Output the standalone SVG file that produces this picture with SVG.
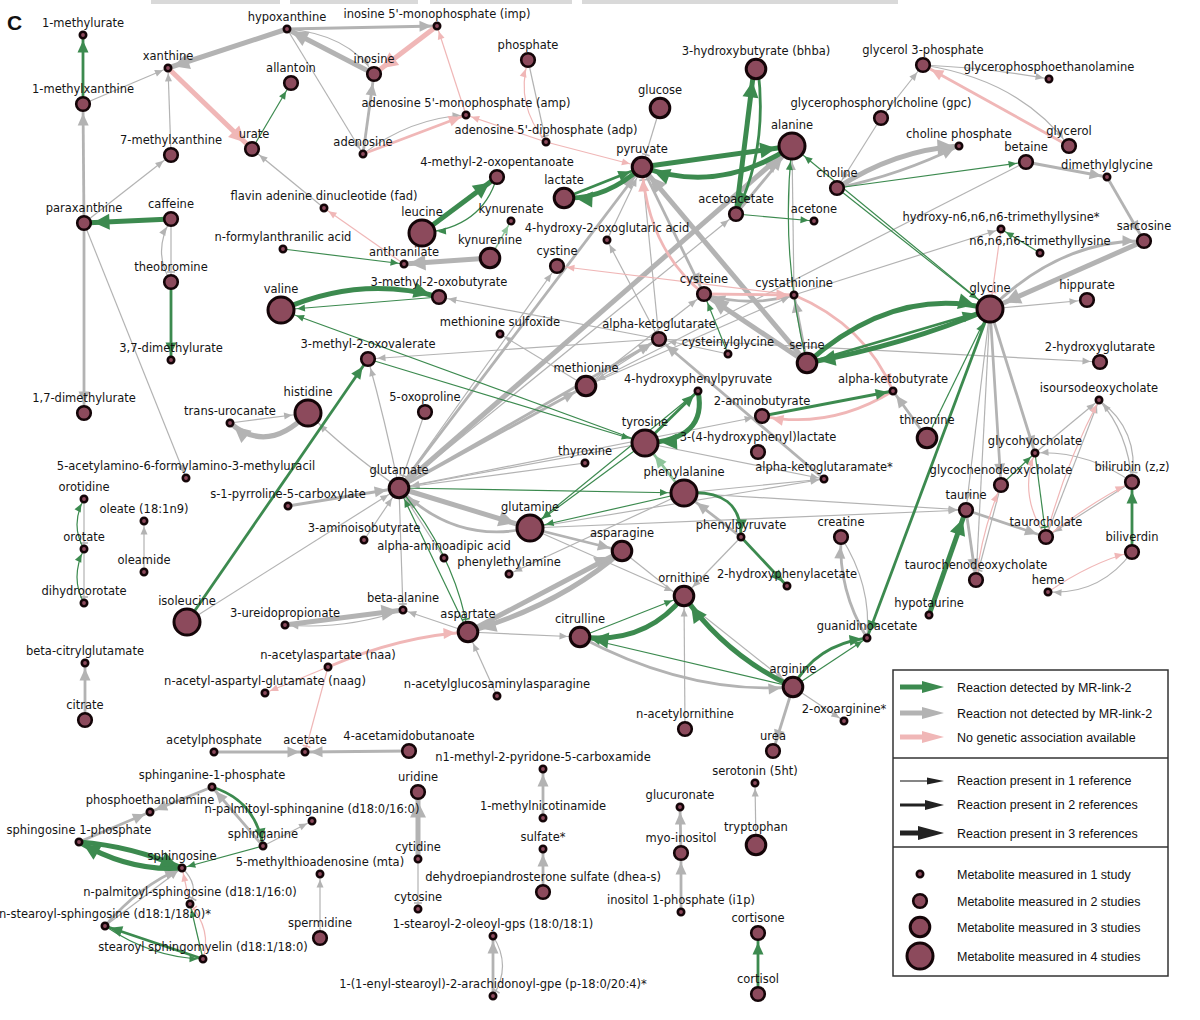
<svg xmlns="http://www.w3.org/2000/svg" width="1200" height="1020" viewBox="0 0 1200 1020">
<style>
marker{overflow:visible}
.mg{fill:#3c8a4f}.mn{fill:#b3b3b3}.mp{fill:#f0b7b7}.ml{fill:#8fc49b}
#edges path{fill:none}
.n1{stroke:#b3b3b3;stroke-width:1.2}.n2{stroke:#b3b3b3;stroke-width:2.8}.n3{stroke:#b3b3b3;stroke-width:5}
.p1{stroke:#f0b7b7;stroke-width:1.2}.p2{stroke:#f0b7b7;stroke-width:2.8}.p3{stroke:#f0b7b7;stroke-width:5}
.g1{stroke:#3c8a4f;stroke-width:1.2}.g2{stroke:#3c8a4f;stroke-width:2.8}.g3{stroke:#3c8a4f;stroke-width:5}
.l1{stroke:#8fc49b;stroke-width:1.5}.l2{stroke:#8fc49b;stroke-width:2.8}
.nodes circle{fill:#8c4a5c;stroke:#140508}
.s1{stroke-width:2.6}.s2{stroke-width:2.6}.s3{stroke-width:3}.s4{stroke-width:3}
.nodes text{font-family:"DejaVu Sans",Verdana,sans-serif;font-size:11.5px;fill:#141414;text-anchor:middle}
.lg text{font-family:"Liberation Sans",Arial,sans-serif;font-size:12.5px;fill:#111}
</style>
<defs>
<path id="a1" d="M0,-3.5L8,0L0,3.5z"/>
<path id="a2" d="M0,-5.5L12,0L0,5.5z"/>
<path id="a3" d="M0,-8L16,0L0,8z"/>
<marker id="g1s1" markerUnits="userSpaceOnUse" orient="auto" refX="13.5" refY="0" markerWidth="1" markerHeight="1"><use href="#a1" class="mg"/></marker>
<marker id="g1s2" markerUnits="userSpaceOnUse" orient="auto" refX="17.5" refY="0" markerWidth="1" markerHeight="1"><use href="#a1" class="mg"/></marker>
<marker id="g1s3" markerUnits="userSpaceOnUse" orient="auto" refX="20.5" refY="0" markerWidth="1" markerHeight="1"><use href="#a1" class="mg"/></marker>
<marker id="g1s4" markerUnits="userSpaceOnUse" orient="auto" refX="24" refY="0" markerWidth="1" markerHeight="1"><use href="#a1" class="mg"/></marker>
<marker id="g2s1" markerUnits="userSpaceOnUse" orient="auto" refX="17.5" refY="0" markerWidth="1" markerHeight="1"><use href="#a2" class="mg"/></marker>
<marker id="g2s2" markerUnits="userSpaceOnUse" orient="auto" refX="21.5" refY="0" markerWidth="1" markerHeight="1"><use href="#a2" class="mg"/></marker>
<marker id="g2s3" markerUnits="userSpaceOnUse" orient="auto" refX="24.5" refY="0" markerWidth="1" markerHeight="1"><use href="#a2" class="mg"/></marker>
<marker id="g2s4" markerUnits="userSpaceOnUse" orient="auto" refX="28" refY="0" markerWidth="1" markerHeight="1"><use href="#a2" class="mg"/></marker>
<marker id="g3s1" markerUnits="userSpaceOnUse" orient="auto" refX="21.5" refY="0" markerWidth="1" markerHeight="1"><use href="#a3" class="mg"/></marker>
<marker id="g3s2" markerUnits="userSpaceOnUse" orient="auto" refX="25.5" refY="0" markerWidth="1" markerHeight="1"><use href="#a3" class="mg"/></marker>
<marker id="g3s3" markerUnits="userSpaceOnUse" orient="auto" refX="28.5" refY="0" markerWidth="1" markerHeight="1"><use href="#a3" class="mg"/></marker>
<marker id="g3s4" markerUnits="userSpaceOnUse" orient="auto" refX="32" refY="0" markerWidth="1" markerHeight="1"><use href="#a3" class="mg"/></marker>
<marker id="n1s1" markerUnits="userSpaceOnUse" orient="auto" refX="13.5" refY="0" markerWidth="1" markerHeight="1"><use href="#a1" class="mn"/></marker>
<marker id="n1s2" markerUnits="userSpaceOnUse" orient="auto" refX="17.5" refY="0" markerWidth="1" markerHeight="1"><use href="#a1" class="mn"/></marker>
<marker id="n1s3" markerUnits="userSpaceOnUse" orient="auto" refX="20.5" refY="0" markerWidth="1" markerHeight="1"><use href="#a1" class="mn"/></marker>
<marker id="n1s4" markerUnits="userSpaceOnUse" orient="auto" refX="24" refY="0" markerWidth="1" markerHeight="1"><use href="#a1" class="mn"/></marker>
<marker id="n2s1" markerUnits="userSpaceOnUse" orient="auto" refX="17.5" refY="0" markerWidth="1" markerHeight="1"><use href="#a2" class="mn"/></marker>
<marker id="n2s2" markerUnits="userSpaceOnUse" orient="auto" refX="21.5" refY="0" markerWidth="1" markerHeight="1"><use href="#a2" class="mn"/></marker>
<marker id="n2s3" markerUnits="userSpaceOnUse" orient="auto" refX="24.5" refY="0" markerWidth="1" markerHeight="1"><use href="#a2" class="mn"/></marker>
<marker id="n2s4" markerUnits="userSpaceOnUse" orient="auto" refX="28" refY="0" markerWidth="1" markerHeight="1"><use href="#a2" class="mn"/></marker>
<marker id="n3s1" markerUnits="userSpaceOnUse" orient="auto" refX="21.5" refY="0" markerWidth="1" markerHeight="1"><use href="#a3" class="mn"/></marker>
<marker id="n3s2" markerUnits="userSpaceOnUse" orient="auto" refX="25.5" refY="0" markerWidth="1" markerHeight="1"><use href="#a3" class="mn"/></marker>
<marker id="n3s3" markerUnits="userSpaceOnUse" orient="auto" refX="28.5" refY="0" markerWidth="1" markerHeight="1"><use href="#a3" class="mn"/></marker>
<marker id="n3s4" markerUnits="userSpaceOnUse" orient="auto" refX="32" refY="0" markerWidth="1" markerHeight="1"><use href="#a3" class="mn"/></marker>
<marker id="p1s1" markerUnits="userSpaceOnUse" orient="auto" refX="13.5" refY="0" markerWidth="1" markerHeight="1"><use href="#a1" class="mp"/></marker>
<marker id="p1s2" markerUnits="userSpaceOnUse" orient="auto" refX="17.5" refY="0" markerWidth="1" markerHeight="1"><use href="#a1" class="mp"/></marker>
<marker id="p1s3" markerUnits="userSpaceOnUse" orient="auto" refX="20.5" refY="0" markerWidth="1" markerHeight="1"><use href="#a1" class="mp"/></marker>
<marker id="p2s1" markerUnits="userSpaceOnUse" orient="auto" refX="17.5" refY="0" markerWidth="1" markerHeight="1"><use href="#a2" class="mp"/></marker>
<marker id="p2s2" markerUnits="userSpaceOnUse" orient="auto" refX="21.5" refY="0" markerWidth="1" markerHeight="1"><use href="#a2" class="mp"/></marker>
<marker id="p2s3" markerUnits="userSpaceOnUse" orient="auto" refX="24.5" refY="0" markerWidth="1" markerHeight="1"><use href="#a2" class="mp"/></marker>
<marker id="p3s2" markerUnits="userSpaceOnUse" orient="auto" refX="25.5" refY="0" markerWidth="1" markerHeight="1"><use href="#a3" class="mp"/></marker>
<marker id="l1s1" markerUnits="userSpaceOnUse" orient="auto" refX="13.5" refY="0" markerWidth="1" markerHeight="1"><use href="#a1" class="ml"/></marker>
<marker id="l2s4" markerUnits="userSpaceOnUse" orient="auto" refX="28" refY="0" markerWidth="1" markerHeight="1"><use href="#a2" class="ml"/></marker>
<marker id="tn1" markerUnits="userSpaceOnUse" orient="auto" refX="6" refY="0" markerWidth="1" markerHeight="1"><path d="M0,-4V4" stroke="#b3b3b3" stroke-width="1.6"/></marker>
<marker id="tn2" markerUnits="userSpaceOnUse" orient="auto" refX="10" refY="0" markerWidth="1" markerHeight="1"><path d="M0,-4V4" stroke="#b3b3b3" stroke-width="1.6"/></marker>
<marker id="tn3" markerUnits="userSpaceOnUse" orient="auto" refX="13" refY="0" markerWidth="1" markerHeight="1"><path d="M0,-4V4" stroke="#b3b3b3" stroke-width="1.6"/></marker>
<marker id="tp1" markerUnits="userSpaceOnUse" orient="auto" refX="6" refY="0" markerWidth="1" markerHeight="1"><path d="M0,-4V4" stroke="#f0b7b7" stroke-width="1.6"/></marker>
<marker id="tp4" markerUnits="userSpaceOnUse" orient="auto" refX="17" refY="0" markerWidth="1" markerHeight="1"><path d="M0,-4V4" stroke="#f0b7b7" stroke-width="1.6"/></marker>
<marker id="tg2" markerUnits="userSpaceOnUse" orient="auto" refX="10" refY="0" markerWidth="1" markerHeight="1"><path d="M0,-4V4" stroke="#3c8a4f" stroke-width="1.6"/></marker>
<marker id="tg3" markerUnits="userSpaceOnUse" orient="auto" refX="13" refY="0" markerWidth="1" markerHeight="1"><path d="M0,-4V4" stroke="#3c8a4f" stroke-width="1.6"/></marker>
</defs>
<rect width="1200" height="1020" fill="#fff"/>
<g id="header" fill="#d9d9d9"><rect x="151" y="0" width="129" height="4"/><rect x="290" y="0" width="128" height="4"/><rect x="430" y="0" width="142" height="4"/><rect x="582" y="0" width="316" height="4"/></g>
<text x="7" y="30" font-family="Liberation Sans,Arial,sans-serif" font-size="21" font-weight="bold" fill="#111">C</text>
<g id="edges">
<path class="n2" d="M84,223 L83,104" marker-end="url(#n2s2)"/>
<path class="n2" d="M84,223 L84,413" marker-end="url(#n2s2)"/>
<path class="n1" d="M83,104 L168,68" marker-end="url(#n1s1)"/>
<path class="n3" d="M287,29 L168,68" marker-end="url(#n3s1)"/>
<path class="n1" d="M171,155 L168,68" marker-end="url(#n1s1)"/>
<path class="n1" d="M84,223 L171,155" marker-end="url(#n1s2)"/>
<path class="n1" d="M171,219 L171,282" marker-end="url(#tn2)"/>
<path class="n1" d="M171,282 Q152,252 171,219" marker-end="url(#n1s2)"/>
<path class="n1" d="M84,223 L186,478" marker-end="url(#n1s1)"/>
<path class="n1" d="M324,208 L252,149" marker-end="url(#n1s2)"/>
<path class="n3" d="M374,74 L287,29" marker-end="url(#n3s1)"/>
<path class="n1" d="M287,29 Q348,34 374,74" marker-end="url(#n1s2)"/>
<path class="n2" d="M287,29 L437,26" marker-end="url(#n2s1)"/>
<path class="n1" d="M287,29 L363,154" marker-end="url(#n1s1)"/>
<path class="n2" d="M363,154 L374,74" marker-end="url(#n2s2)"/>
<path class="n1" d="M363,154 Q410,118 466,115" marker-end="url(#n1s1)"/>
<path class="n1" d="M528,60 L546,142" marker-end="url(#tn1)"/>
<path class="n3" d="M490,258 L404,264" marker-end="url(#n3s1)"/>
<path class="n1" d="M881,118 L923,65" marker-end="url(#n1s2)"/>
<path class="n1" d="M923,65 Q990,68 1049,79" marker-end="url(#n1s1)"/>
<path class="n1" d="M923,65 Q1020,80 1069,146" marker-end="url(#n1s2)"/>
<path class="n3" d="M837,188 Q895,150 959,146" marker-end="url(#n3s1)"/>
<path class="n2" d="M837,188 Q900,175 959,146" marker-end="url(#n2s1)"/>
<path class="n1" d="M881,118 L837,188" marker-end="url(#n1s2)"/>
<path class="n2" d="M1026,162 L1107,177" marker-end="url(#n2s1)"/>
<path class="n2" d="M1107,177 L1144,241" marker-end="url(#n2s2)"/>
<path class="n3" d="M1144,241 L990,309" marker-end="url(#n3s4)"/>
<path class="n2" d="M990,309 Q1060,240 1144,241" marker-end="url(#n2s2)"/>
<path class="n1" d="M990,309 L1087,300" marker-end="url(#n1s2)"/>
<path class="n1" d="M1026,162 L586,386" marker-end="url(#n1s3)"/>
<path class="n1" d="M794,295 L1001,229" marker-end="url(#n1s1)"/>
<path class="n2" d="M990,309 L1035,453" marker-end="url(#n2s1)"/>
<path class="n2" d="M990,309 L1001,485" marker-end="url(#n2s2)"/>
<path class="n1" d="M990,309 L966,510" marker-end="url(#n1s2)"/>
<path class="n1" d="M990,309 L976,580" marker-end="url(#tn2)"/>
<path class="n2" d="M966,510 L1046,537" marker-end="url(#n2s2)"/>
<path class="n2" d="M966,510 L976,580" marker-end="url(#n2s2)"/>
<path class="n1" d="M1035,453 L1099,400" marker-end="url(#n1s1)"/>
<path class="n1" d="M1046,537 L1099,400" marker-end="url(#n1s1)"/>
<path class="n1" d="M1132,482 Q1128,432 1099,400" marker-end="url(#n1s1)"/>
<path class="n1" d="M1099,400 Q1140,430 1132,482" marker-end="url(#tn2)"/>
<path class="n1" d="M1132,482 Q1085,450 1035,453" marker-end="url(#n1s1)"/>
<path class="n1" d="M1001,485 L976,580" marker-end="url(#tn2)"/>
<path class="n1" d="M1132,482 L1046,537" marker-end="url(#n1s2)"/>
<path class="n1" d="M1132,552 Q1100,595 1048,592" marker-end="url(#n1s1)"/>
<path class="n2" d="M927,438 L893,391" marker-end="url(#n2s1)"/>
<path class="n2" d="M807,363 L794,295" marker-end="url(#n2s1)"/>
<path class="n2" d="M794,295 Q748,308 704,294" marker-end="url(#n2s2)"/>
<path class="n3" d="M807,363 L704,294" marker-end="url(#n3s2)"/>
<path class="n3" d="M807,363 L642,167" marker-end="url(#n3s3)"/>
<path class="n2" d="M642,167 L704,294" marker-end="url(#n2s2)"/>
<path class="n1" d="M660,108 L642,167" marker-end="url(#tn3)"/>
<path class="n2" d="M736,214 L792,146" marker-end="url(#n2s4)"/>
<path class="n3" d="M399,488 L792,146" marker-end="url(#n3s4)"/>
<path class="n2" d="M399,488 L586,386" marker-end="url(#n2s3)"/>
<path class="n2" d="M399,488 L659,339" marker-end="url(#n2s2)"/>
<path class="n1" d="M425,412 L399,488" marker-end="url(#tn3)"/>
<path class="n1" d="M399,488 Q385,420 368,359" marker-end="url(#n1s2)"/>
<path class="n1" d="M399,488 Q345,450 308,413" marker-end="url(#n1s4)"/>
<path class="n1" d="M585,463 L399,488" marker-end="url(#n1s3)"/>
<path class="n1" d="M645,443 L399,488" marker-end="url(#n1s3)"/>
<path class="n3" d="M399,488 L530,528" marker-end="url(#n3s4)"/>
<path class="n2" d="M530,528 Q455,545 399,488" marker-end="url(#n2s3)"/>
<path class="n1" d="M364,540 L399,488" marker-end="url(#n1s3)"/>
<path class="n1" d="M444,558 L399,488" marker-end="url(#n1s3)"/>
<path class="n2" d="M288,506 L399,488" marker-end="url(#n2s3)"/>
<path class="n1" d="M187,622 L399,488" marker-end="url(#n1s3)"/>
<path class="n1" d="M399,488 L403,610" marker-end="url(#tn1)"/>
<path class="n3" d="M285,625 L403,610" marker-end="url(#n3s1)"/>
<path class="n1" d="M403,610 Q345,630 285,625" marker-end="url(#n1s1)"/>
<path class="n1" d="M468,632 L403,610" marker-end="url(#n1s1)"/>
<path class="n3" d="M468,632 L622,551" marker-end="url(#n3s3)"/>
<path class="n3" d="M622,551 Q560,605 468,632" marker-end="url(#n3s3)"/>
<path class="n1" d="M468,632 L580,637" marker-end="url(#n1s3)"/>
<path class="n1" d="M497,696 L468,632" marker-end="url(#n1s3)"/>
<path class="n2" d="M530,528 L622,551" marker-end="url(#n2s3)"/>
<path class="n1" d="M684,493 L509,574" marker-end="url(#n1s1)"/>
<path class="n2" d="M741,537 L684,493" marker-end="url(#n2s4)"/>
<path class="n1" d="M530,528 L684,596" marker-end="url(#n1s3)"/>
<path class="n1" d="M685,729 L684,596" marker-end="url(#n1s3)"/>
<path class="n2" d="M580,637 Q690,695 793,687" marker-end="url(#n2s3)"/>
<path class="n1" d="M622,551 L793,687" marker-end="url(#n1s3)"/>
<path class="n2" d="M793,687 L773,751" marker-end="url(#n2s2)"/>
<path class="n1" d="M793,687 L844,721" marker-end="url(#n1s1)"/>
<path class="n2" d="M867,638 Q838,590 841,537" marker-end="url(#n2s2)"/>
<path class="n1" d="M841,537 Q872,585 867,638" marker-end="url(#n1s1)"/>
<path class="n1" d="M530,528 L824,479" marker-end="url(#n1s1)"/>
<path class="n1" d="M684,493 L824,479" marker-end="url(#n1s1)"/>
<path class="n1" d="M645,443 L824,479" marker-end="url(#n1s1)"/>
<path class="n1" d="M530,528 L966,510" marker-end="url(#n1s2)"/>
<path class="n1" d="M684,493 L966,510" marker-end="url(#n1s2)"/>
<path class="n1" d="M659,339 L1100,362" marker-end="url(#n1s2)"/>
<path class="n1" d="M659,339 L439,297" marker-end="url(#n1s2)"/>
<path class="n1" d="M659,339 L368,359" marker-end="url(#n1s2)"/>
<path class="n1" d="M586,386 L500,334" marker-end="url(#n1s1)"/>
<path class="n1" d="M586,386 L659,339" marker-end="url(#n1s2)"/>
<path class="n1" d="M399,488 L557,266" marker-end="url(#n1s2)"/>
<path class="n1" d="M659,339 L607,240" marker-end="url(#n1s1)"/>
<path class="n1" d="M607,240 L642,167" marker-end="url(#n1s3)"/>
<path class="n1" d="M659,339 L642,167" marker-end="url(#tn3)"/>
<path class="n1" d="M586,386 L704,294" marker-end="url(#n1s2)"/>
<path class="n1" d="M399,488 L762,416" marker-end="url(#n1s2)"/>
<path class="n1" d="M741,537 L684,596" marker-end="url(#n1s3)"/>
<path class="n1" d="M399,488 L736,214" marker-end="url(#n1s2)"/>
<path class="n2" d="M399,488 L642,167" marker-end="url(#n2s3)"/>
<path class="n1" d="M794,295 L792,146" marker-end="url(#n1s4)"/>
<path class="n1" d="M728,354 L659,339" marker-end="url(#n1s2)"/>
<path class="n2" d="M824,479 L659,339" marker-end="url(#n2s2)"/>
<path class="n1" d="M586,386 L794,295" marker-end="url(#n1s1)"/>
<path class="n1" d="M230,423 L308,413" marker-end="url(#n1s4)"/>
<path class="n3" d="M308,413 Q268,455 230,423" marker-end="url(#n3s1)"/>
<path class="n1" d="M144,572 L144,521" marker-end="url(#n1s1)"/>
<path class="n1" d="M84,499 L84,549" marker-end="url(#tn1)"/>
<path class="n1" d="M84,549 L84,603" marker-end="url(#tn1)"/>
<path class="n2" d="M85,720 L85,663" marker-end="url(#n2s1)"/>
<path class="n2" d="M214,752 L305,752" marker-end="url(#n2s1)"/>
<path class="n2" d="M409,751 L305,752" marker-end="url(#n2s1)"/>
<path class="n1" d="M320,938 L320,874" marker-end="url(#n1s1)"/>
<path class="n3" d="M418,859 L418,792" marker-end="url(#n3s2)"/>
<path class="n1" d="M418,859 L418,909" marker-end="url(#tn1)"/>
<path class="n2" d="M543,818 L543,769" marker-end="url(#n2s1)"/>
<path class="n2" d="M543,892 L543,849" marker-end="url(#n2s1)"/>
<path class="n2" d="M493,996 L493,936" marker-end="url(#n2s1)"/>
<path class="n1" d="M493,936 Q512,966 493,996" marker-end="url(#tn1)"/>
<path class="n2" d="M681,853 L680,807" marker-end="url(#n2s1)"/>
<path class="n2" d="M681,912 L681,853" marker-end="url(#n2s2)"/>
<path class="n1" d="M756,845 L755,783" marker-end="url(#n1s1)"/>
<path class="n2" d="M79,842 L150,812" marker-end="url(#n2s1)"/>
<path class="n2" d="M212,787 L150,812" marker-end="url(#n2s1)"/>
<path class="n2" d="M263,846 L212,787" marker-end="url(#n2s1)"/>
<path class="n1" d="M263,846 L312,821" marker-end="url(#n1s1)"/>
<path class="n2" d="M105,926 Q140,885 182,868" marker-end="url(#n2s1)"/>
<path class="n1" d="M105,926 L182,868" marker-end="url(#n1s1)"/>
<path class="n1" d="M182,868 Q200,885 190,904" marker-end="url(#tn1)"/>
<path class="p3" d="M168,68 L252,149" marker-end="url(#p3s2)"/>
<path class="p3" d="M437,26 L374,74" marker-end="url(#p3s2)"/>
<path class="p2" d="M363,154 L466,115" marker-end="url(#p2s1)"/>
<path class="p1" d="M466,115 L437,26" marker-end="url(#p1s1)"/>
<path class="p1" d="M546,142 L466,115" marker-end="url(#p1s1)"/>
<path class="p1" d="M546,142 Q515,105 528,60" marker-end="url(#p1s2)"/>
<path class="p1" d="M404,264 L324,208" marker-end="url(#p1s1)"/>
<path class="p1" d="M546,142 L642,167" marker-end="url(#p1s3)"/>
<path class="p2" d="M704,294 Q648,250 642,167" marker-end="url(#p2s3)"/>
<path class="p2" d="M704,294 L794,295" marker-end="url(#p2s1)"/>
<path class="p2" d="M794,295 Q865,325 893,391" marker-end="url(#p2s1)"/>
<path class="p1" d="M794,295 L557,266" marker-end="url(#p1s2)"/>
<path class="p2" d="M893,391 Q830,430 762,416" marker-end="url(#p2s2)"/>
<path class="p2" d="M1069,146 L923,65" marker-end="url(#p2s2)"/>
<path class="p1" d="M1001,229 L990,309" marker-end="url(#tp4)"/>
<path class="p2" d="M328,667 Q400,636 468,632" marker-end="url(#p2s3)"/>
<path class="p1" d="M328,667 L265,693" marker-end="url(#p1s1)"/>
<path class="p1" d="M328,667 L305,752" marker-end="url(#tp1)"/>
<path class="p1" d="M1048,592 Q1092,562 1132,552" marker-end="url(#p1s2)"/>
<path class="p1" d="M976,580 Q982,530 1001,485" marker-end="url(#p1s2)"/>
<path class="p1" d="M1046,537 Q1065,465 1099,400" marker-end="url(#p1s1)"/>
<path class="p1" d="M1046,537 Q1095,500 1132,482" marker-end="url(#p1s2)"/>
<path class="p1" d="M1046,537 Q1018,495 1035,453" marker-end="url(#p1s1)"/>
<path class="p1" d="M190,904 L182,868" marker-end="url(#p1s1)"/>
<path class="p1" d="M203,959 Q212,930 190,904" marker-end="url(#tp1)"/>
<path class="g2" d="M83,104 L83,35" marker-end="url(#g2s1)"/>
<path class="g3" d="M171,219 L84,223" marker-end="url(#g3s2)"/>
<path class="g2" d="M171,282 L171,360" marker-end="url(#g2s1)"/>
<path class="g1" d="M252,149 L291,83" marker-end="url(#g1s2)"/>
<path class="g3" d="M422,233 L497,177" marker-end="url(#g3s2)"/>
<path class="g1" d="M497,177 Q482,228 422,233" marker-end="url(#g1s4)"/>
<path class="l1" d="M490,258 L511,221" marker-end="url(#l1s1)"/>
<path class="g1" d="M283,249 L404,264" marker-end="url(#g1s1)"/>
<path class="g3" d="M281,310 Q360,275 439,297" marker-end="url(#g3s2)"/>
<path class="g1" d="M439,297 L281,310" marker-end="url(#g1s4)"/>
<path class="g2" d="M187,622 L368,359" marker-end="url(#g2s2)"/>
<path class="g1" d="M645,443 L281,310" marker-end="url(#g1s4)"/>
<path class="g1" d="M368,359 L645,443" marker-end="url(#g1s4)"/>
<path class="g3" d="M642,167 L792,146" marker-end="url(#g3s4)"/>
<path class="g3" d="M792,146 Q720,195 642,167" marker-end="url(#g3s3)"/>
<path class="g3" d="M642,167 Q605,200 564,198" marker-end="url(#g3s3)"/>
<path class="g2" d="M564,198 L642,167" marker-end="url(#g2s3)"/>
<path class="g3" d="M736,214 L754,69" marker-end="url(#g3s3)"/>
<path class="g2" d="M758,69 Q768,150 736,214" marker-end="url(#g2s2)"/>
<path class="g1" d="M736,214 L814,221" marker-end="url(#g1s1)"/>
<path class="g1" d="M807,363 Q780,255 792,146" marker-end="url(#g1s4)"/>
<path class="g1" d="M990,309 L792,146" marker-end="url(#g1s4)"/>
<path class="g1" d="M837,188 L990,309" marker-end="url(#g1s4)"/>
<path class="g1" d="M837,188 L1026,162" marker-end="url(#g1s2)"/>
<path class="g1" d="M1040,253 L1001,229" marker-end="url(#g1s1)"/>
<path class="g3" d="M807,363 Q895,285 990,309" marker-end="url(#g3s4)"/>
<path class="g3" d="M990,309 Q905,345 807,363" marker-end="url(#g3s3)"/>
<path class="g2" d="M807,363 L990,309" marker-end="url(#g2s4)"/>
<path class="g1" d="M927,438 L990,309" marker-end="url(#g1s4)"/>
<path class="g2" d="M990,309 L867,638" marker-end="url(#g2s1)"/>
<path class="g3" d="M929,615 L966,510" marker-end="url(#g3s2)"/>
<path class="g2" d="M1132,552 L1132,482" marker-end="url(#g2s2)"/>
<path class="g1" d="M1035,453 L1046,537" marker-end="url(#tg2)"/>
<path class="g1" d="M1001,485 L1035,453" marker-end="url(#g1s1)"/>
<path class="g2" d="M762,416 L893,391" marker-end="url(#g2s1)"/>
<path class="g2" d="M645,443 L698,391" marker-end="url(#g2s1)"/>
<path class="g3" d="M698,391 Q708,440 645,443" marker-end="url(#g3s4)"/>
<path class="l2" d="M684,493 L645,443" marker-end="url(#l2s4)"/>
<path class="g2" d="M684,493 Q742,488 741,537" marker-end="url(#g2s1)"/>
<path class="g2" d="M741,537 L787,586" marker-end="url(#g2s1)"/>
<path class="g1" d="M645,443 L530,528" marker-end="url(#g1s4)"/>
<path class="g1" d="M684,493 L530,528" marker-end="url(#g1s4)"/>
<path class="g1" d="M698,391 L530,528" marker-end="url(#g1s4)"/>
<path class="g1" d="M399,488 L684,493" marker-end="url(#g1s4)"/>
<path class="g1" d="M468,632 L399,488" marker-end="url(#g1s3)"/>
<path class="g1" d="M399,488 Q455,555 468,632" marker-end="url(#tg3)"/>
<path class="g3" d="M793,687 Q725,655 684,596" marker-end="url(#g3s3)"/>
<path class="g3" d="M684,596 Q645,645 580,637" marker-end="url(#g3s3)"/>
<path class="g1" d="M793,687 L580,637" marker-end="url(#g1s3)"/>
<path class="g1" d="M580,637 L684,596" marker-end="url(#g1s3)"/>
<path class="g2" d="M793,687 Q815,645 867,638" marker-end="url(#g2s1)"/>
<path class="g1" d="M793,687 L867,638" marker-end="url(#g1s1)"/>
<path class="g2" d="M758,994 L758,933" marker-end="url(#g2s2)"/>
<path class="g2" d="M212,787 Q255,800 263,846" marker-end="url(#g2s1)"/>
<path class="g3" d="M182,868 Q130,872 79,842" marker-end="url(#g3s1)"/>
<path class="g3" d="M79,842 Q132,846 182,868" marker-end="url(#g3s1)"/>
<path class="g1" d="M263,846 L182,868" marker-end="url(#g1s1)"/>
<path class="g2" d="M203,959 L105,926" marker-end="url(#g2s1)"/>
<path class="g1" d="M105,926 Q152,958 203,959" marker-end="url(#g1s1)"/>
<path class="g1" d="M203,959 L190,904" marker-end="url(#g1s1)"/>
<path class="g1" d="M84,549 Q70,525 84,499" marker-end="url(#g1s1)"/>
<path class="g1" d="M84,603 Q70,578 84,549" marker-end="url(#g1s1)"/>
<path class="g1" d="M728,354 L704,294" marker-end="url(#g1s2)"/>
</g>
<g class="nodes">
<g id="n-mu1"><circle class="s1" cx="83" cy="35" r="3.2"/><text x="83" y="26.5">1-methylurate</text></g>
<g id="n-mx1"><circle class="s2" cx="83" cy="104" r="6.8"/><text x="83" y="93">1-methylxanthine</text></g>
<g id="n-xan"><circle class="s1" cx="168" cy="68" r="3.2"/><text x="168" y="59.5">xanthine</text></g>
<g id="n-hyp"><circle class="s1" cx="287" cy="29" r="3.2"/><text x="287" y="20.5">hypoxanthine</text></g>
<g id="n-imp"><circle class="s1" cx="437" cy="26" r="3.2"/><text x="437" y="17.5">inosine 5'-monophosphate (imp)</text></g>
<g id="n-ino"><circle class="s2" cx="374" cy="74" r="6.8"/><text x="374" y="63">inosine</text></g>
<g id="n-all"><circle class="s2" cx="291" cy="83" r="6.8"/><text x="291" y="72">allantoin</text></g>
<g id="n-pho"><circle class="s2" cx="528" cy="60" r="6.8"/><text x="528" y="49">phosphate</text></g>
<g id="n-amp"><circle class="s1" cx="466" cy="115" r="3.2"/><text x="466" y="106.5">adenosine 5'-monophosphate (amp)</text></g>
<g id="n-ade"><circle class="s1" cx="363" cy="154" r="3.2"/><text x="363" y="145.5">adenosine</text></g>
<g id="n-adp"><circle class="s1" cx="546" cy="142" r="3.2"/><text x="546" y="133.5">adenosine 5'-diphosphate (adp)</text></g>
<g id="n-ura"><circle class="s2" cx="252" cy="149" r="6.8"/><text x="254" y="138">urate</text></g>
<g id="n-mx7"><circle class="s2" cx="171" cy="155" r="6.8"/><text x="171" y="144">7-methylxanthine</text></g>
<g id="n-glc"><circle class="s3" cx="660" cy="108" r="9.8"/><text x="660" y="94">glucose</text></g>
<g id="n-bhb"><circle class="s3" cx="756" cy="69" r="9.8"/><text x="756" y="55">3-hydroxybutyrate (bhba)</text></g>
<g id="n-g3p"><circle class="s2" cx="923" cy="65" r="6.8"/><text x="923" y="54">glycerol 3-phosphate</text></g>
<g id="n-gpe"><circle class="s1" cx="1049" cy="79" r="3.2"/><text x="1049" y="70.5">glycerophosphoethanolamine</text></g>
<g id="n-gpc"><circle class="s2" cx="881" cy="118" r="6.8"/><text x="881" y="107">glycerophosphorylcholine (gpc)</text></g>
<g id="n-ala"><circle class="s4" cx="792" cy="146" r="13"/><text x="792" y="129">alanine</text></g>
<g id="n-chp"><circle class="s1" cx="959" cy="146" r="3.2"/><text x="959" y="137.5">choline phosphate</text></g>
<g id="n-gly3"><circle class="s2" cx="1069" cy="146" r="6.8"/><text x="1069" y="135">glycerol</text></g>
<g id="n-bet"><circle class="s2" cx="1026" cy="162" r="6.8"/><text x="1026" y="151">betaine</text></g>
<g id="n-dmg"><circle class="s1" cx="1107" cy="177" r="3.2"/><text x="1107" y="168.5">dimethylglycine</text></g>
<g id="n-pyr"><circle class="s3" cx="642" cy="167" r="9.8"/><text x="642" y="153">pyruvate</text></g>
<g id="n-lac"><circle class="s3" cx="564" cy="198" r="9.8"/><text x="564" y="184">lactate</text></g>
<g id="n-m2op"><circle class="s2" cx="497" cy="177" r="6.8"/><text x="497" y="166">4-methyl-2-oxopentanoate</text></g>
<g id="n-cho"><circle class="s2" cx="837" cy="188" r="6.8"/><text x="837" y="177">choline</text></g>
<g id="n-aca"><circle class="s2" cx="736" cy="214" r="6.8"/><text x="736" y="203">acetoacetate</text></g>
<g id="n-act"><circle class="s1" cx="814" cy="221" r="3.2"/><text x="814" y="212.5">acetone</text></g>
<g id="n-pxn"><circle class="s2" cx="84" cy="223" r="6.8"/><text x="84" y="212">paraxanthine</text></g>
<g id="n-caf"><circle class="s2" cx="171" cy="219" r="6.8"/><text x="171" y="208">caffeine</text></g>
<g id="n-fad"><circle class="s1" cx="324" cy="208" r="3.2"/><text x="324" y="199.5">flavin adenine dinucleotide (fad)</text></g>
<g id="n-leu"><circle class="s4" cx="422" cy="233" r="13"/><text x="422" y="216">leucine</text></g>
<g id="n-kyna"><circle class="s1" cx="511" cy="221" r="3.2"/><text x="511" y="212.5">kynurenate</text></g>
<g id="n-nfa"><circle class="s1" cx="283" cy="249" r="3.2"/><text x="283" y="240.5">n-formylanthranilic acid</text></g>
<g id="n-hog"><circle class="s1" cx="607" cy="240" r="3.2"/><text x="607" y="231.5">4-hydroxy-2-oxoglutaric acid</text></g>
<g id="n-kyn"><circle class="s3" cx="490" cy="258" r="9.8"/><text x="490" y="244">kynurenine</text></g>
<g id="n-ant"><circle class="s1" cx="404" cy="264" r="3.2"/><text x="404" y="255.5">anthranilate</text></g>
<g id="n-cys2"><circle class="s2" cx="557" cy="266" r="6.8"/><text x="557" y="255">cystine</text></g>
<g id="n-html"><circle class="s1" cx="1001" cy="229" r="3.2"/><text x="1001" y="220.5">hydroxy-n6,n6,n6-trimethyllysine*</text></g>
<g id="n-tml"><circle class="s1" cx="1040" cy="253" r="3.2"/><text x="1040" y="244.5">n6,n6,n6-trimethyllysine</text></g>
<g id="n-sar"><circle class="s2" cx="1144" cy="241" r="6.8"/><text x="1144" y="230">sarcosine</text></g>
<g id="n-val"><circle class="s4" cx="281" cy="310" r="13"/><text x="281" y="293">valine</text></g>
<g id="n-mob"><circle class="s2" cx="439" cy="297" r="6.8"/><text x="439" y="286">3-methyl-2-oxobutyrate</text></g>
<g id="n-cys"><circle class="s2" cx="704" cy="294" r="6.8"/><text x="704" y="283">cysteine</text></g>
<g id="n-cth"><circle class="s1" cx="794" cy="295" r="3.2"/><text x="794" y="286.5">cystathionine</text></g>
<g id="n-gly"><circle class="s4" cx="990" cy="309" r="13"/><text x="990" y="292">glycine</text></g>
<g id="n-hip"><circle class="s2" cx="1087" cy="300" r="6.8"/><text x="1087" y="289">hippurate</text></g>
<g id="n-mso"><circle class="s1" cx="500" cy="334" r="3.2"/><text x="500" y="325.5">methionine sulfoxide</text></g>
<g id="n-akg"><circle class="s2" cx="659" cy="339" r="6.8"/><text x="659" y="328">alpha-ketoglutarate</text></g>
<g id="n-cyg"><circle class="s1" cx="728" cy="354" r="3.2"/><text x="728" y="345.5">cysteinylglycine</text></g>
<g id="n-ser"><circle class="s3" cx="807" cy="363" r="9.8"/><text x="807" y="349">serine</text></g>
<g id="n-mov"><circle class="s2" cx="368" cy="359" r="6.8"/><text x="368" y="348">3-methyl-2-oxovalerate</text></g>
<g id="n-hgl"><circle class="s2" cx="1100" cy="362" r="6.8"/><text x="1100" y="351">2-hydroxyglutarate</text></g>
<g id="n-met"><circle class="s3" cx="586" cy="386" r="9.8"/><text x="586" y="372">methionine</text></g>
<g id="n-hpp"><circle class="s1" cx="698" cy="391" r="3.2"/><text x="698" y="382.5">4-hydroxyphenylpyruvate</text></g>
<g id="n-akb"><circle class="s1" cx="893" cy="391" r="3.2"/><text x="893" y="382.5">alpha-ketobutyrate</text></g>
<g id="n-iudc"><circle class="s1" cx="1099" cy="400" r="3.2"/><text x="1099" y="391.5">isoursodeoxycholate</text></g>
<g id="n-his"><circle class="s4" cx="308" cy="413" r="13"/><text x="308" y="396">histidine</text></g>
<g id="n-uro"><circle class="s1" cx="230" cy="423" r="3.2"/><text x="230" y="414.5">trans-urocanate</text></g>
<g id="n-oxp"><circle class="s2" cx="425" cy="412" r="6.8"/><text x="425" y="401">5-oxoproline</text></g>
<g id="n-abu"><circle class="s2" cx="762" cy="416" r="6.8"/><text x="762" y="405">2-aminobutyrate</text></g>
<g id="n-thr"><circle class="s3" cx="927" cy="438" r="9.8"/><text x="927" y="424">threonine</text></g>
<g id="n-tyr"><circle class="s4" cx="645" cy="443" r="13"/><text x="645" y="426">tyrosine</text></g>
<g id="n-hpl"><circle class="s2" cx="758" cy="452" r="6.8"/><text x="758" y="441">3-(4-hydroxyphenyl)lactate</text></g>
<g id="n-thx"><circle class="s1" cx="585" cy="463" r="3.2"/><text x="585" y="454.5">thyroxine</text></g>
<g id="n-ghc"><circle class="s1" cx="1035" cy="453" r="3.2"/><text x="1035" y="444.5">glycohyocholate</text></g>
<g id="n-akgm"><circle class="s1" cx="824" cy="479" r="3.2"/><text x="824" y="470.5">alpha-ketoglutaramate*</text></g>
<g id="n-afmu"><circle class="s1" cx="186" cy="478" r="3.2"/><text x="186" y="469.5">5-acetylamino-6-formylamino-3-methyluracil</text></g>
<g id="n-glu"><circle class="s3" cx="399" cy="488" r="9.8"/><text x="399" y="474">glutamate</text></g>
<g id="n-phe"><circle class="s4" cx="684" cy="493" r="13"/><text x="684" y="476">phenylalanine</text></g>
<g id="n-gcdc"><circle class="s2" cx="1001" cy="485" r="6.8"/><text x="1001" y="474">glycochenodeoxycholate</text></g>
<g id="n-bil"><circle class="s2" cx="1132" cy="482" r="6.8"/><text x="1132" y="471">bilirubin (z,z)</text></g>
<g id="n-ord"><circle class="s1" cx="84" cy="499" r="3.2"/><text x="84" y="490.5">orotidine</text></g>
<g id="n-ole"><circle class="s1" cx="144" cy="521" r="3.2"/><text x="144" y="512.5">oleate (18:1n9)</text></g>
<g id="n-p5c"><circle class="s1" cx="288" cy="506" r="3.2"/><text x="288" y="497.5">s-1-pyrroline-5-carboxylate</text></g>
<g id="n-tau"><circle class="s2" cx="966" cy="510" r="6.8"/><text x="966" y="499">taurine</text></g>
<g id="n-crt"><circle class="s2" cx="841" cy="537" r="6.8"/><text x="841" y="526">creatine</text></g>
<g id="n-ppy"><circle class="s1" cx="741" cy="537" r="3.2"/><text x="741" y="528.5">phenylpyruvate</text></g>
<g id="n-gln"><circle class="s4" cx="530" cy="528" r="13"/><text x="530" y="511">glutamine</text></g>
<g id="n-aib"><circle class="s1" cx="364" cy="540" r="3.2"/><text x="364" y="531.5">3-aminoisobutyrate</text></g>
<g id="n-tc"><circle class="s2" cx="1046" cy="537" r="6.8"/><text x="1046" y="526">taurocholate</text></g>
<g id="n-bv"><circle class="s2" cx="1132" cy="552" r="6.8"/><text x="1132" y="541">biliverdin</text></g>
<g id="n-oro"><circle class="s1" cx="84" cy="549" r="3.2"/><text x="84" y="540.5">orotate</text></g>
<g id="n-olm"><circle class="s1" cx="144" cy="572" r="3.2"/><text x="144" y="563.5">oleamide</text></g>
<g id="n-aad"><circle class="s1" cx="444" cy="558" r="3.2"/><text x="444" y="549.5">alpha-aminoadipic acid</text></g>
<g id="n-asn"><circle class="s3" cx="622" cy="551" r="9.8"/><text x="622" y="537">asparagine</text></g>
<g id="n-pea"><circle class="s1" cx="509" cy="574" r="3.2"/><text x="509" y="565.5">phenylethylamine</text></g>
<g id="n-hpa"><circle class="s1" cx="787" cy="586" r="3.2"/><text x="787" y="577.5">2-hydroxyphenylacetate</text></g>
<g id="n-tcdc"><circle class="s2" cx="976" cy="580" r="6.8"/><text x="976" y="569">taurochenodeoxycholate</text></g>
<g id="n-hem"><circle class="s1" cx="1048" cy="592" r="3.2"/><text x="1048" y="583.5">heme</text></g>
<g id="n-dho"><circle class="s1" cx="84" cy="603" r="3.2"/><text x="84" y="594.5">dihydroorotate</text></g>
<g id="n-orn"><circle class="s3" cx="684" cy="596" r="9.8"/><text x="684" y="582">ornithine</text></g>
<g id="n-ile"><circle class="s4" cx="187" cy="622" r="13"/><text x="187" y="605">isoleucine</text></g>
<g id="n-urp"><circle class="s1" cx="285" cy="625" r="3.2"/><text x="285" y="616.5">3-ureidopropionate</text></g>
<g id="n-bal"><circle class="s1" cx="403" cy="610" r="3.2"/><text x="403" y="601.5">beta-alanine</text></g>
<g id="n-asp"><circle class="s3" cx="468" cy="632" r="9.8"/><text x="468" y="618">aspartate</text></g>
<g id="n-cit"><circle class="s3" cx="580" cy="637" r="9.8"/><text x="580" y="623">citrulline</text></g>
<g id="n-hyt"><circle class="s1" cx="929" cy="615" r="3.2"/><text x="929" y="606.5">hypotaurine</text></g>
<g id="n-gaa"><circle class="s1" cx="867" cy="638" r="3.2"/><text x="867" y="629.5">guanidinoacetate</text></g>
<g id="n-bcg"><circle class="s1" cx="85" cy="663" r="3.2"/><text x="85" y="654.5">beta-citrylglutamate</text></g>
<g id="n-naa"><circle class="s1" cx="328" cy="667" r="3.2"/><text x="328" y="658.5">n-acetylaspartate (naa)</text></g>
<g id="n-arg"><circle class="s3" cx="793" cy="687" r="9.8"/><text x="793" y="673">arginine</text></g>
<g id="n-nagn"><circle class="s1" cx="497" cy="696" r="3.2"/><text x="497" y="687.5">n-acetylglucosaminylasparagine</text></g>
<g id="n-naag"><circle class="s1" cx="265" cy="693" r="3.2"/><text x="265" y="684.5">n-acetyl-aspartyl-glutamate (naag)</text></g>
<g id="n-ctr"><circle class="s2" cx="85" cy="720" r="6.8"/><text x="85" y="709">citrate</text></g>
<g id="n-oarg"><circle class="s1" cx="844" cy="721" r="3.2"/><text x="844" y="712.5">2-oxoarginine*</text></g>
<g id="n-naorn"><circle class="s2" cx="685" cy="729" r="6.8"/><text x="685" y="718">n-acetylornithine</text></g>
<g id="n-ure"><circle class="s2" cx="773" cy="751" r="6.8"/><text x="773" y="740">urea</text></g>
<g id="n-acp"><circle class="s1" cx="214" cy="752" r="3.2"/><text x="214" y="743.5">acetylphosphate</text></g>
<g id="n-ace"><circle class="s1" cx="305" cy="752" r="3.2"/><text x="305" y="743.5">acetate</text></g>
<g id="n-aab"><circle class="s2" cx="409" cy="751" r="6.8"/><text x="409" y="740">4-acetamidobutanoate</text></g>
<g id="n-n1m"><circle class="s1" cx="543" cy="769" r="3.2"/><text x="543" y="760.5">n1-methyl-2-pyridone-5-carboxamide</text></g>
<g id="n-ser5"><circle class="s1" cx="755" cy="783" r="3.2"/><text x="755" y="774.5">serotonin (5ht)</text></g>
<g id="n-s1pa"><circle class="s1" cx="212" cy="787" r="3.2"/><text x="212" y="778.5">sphinganine-1-phosphate</text></g>
<g id="n-urd"><circle class="s2" cx="418" cy="792" r="6.8"/><text x="418" y="781">uridine</text></g>
<g id="n-pea2"><circle class="s1" cx="150" cy="812" r="3.2"/><text x="150" y="803.5">phosphoethanolamine</text></g>
<g id="n-nps"><circle class="s1" cx="312" cy="821" r="3.2"/><text x="312" y="812.5">n-palmitoyl-sphinganine (d18:0/16:0)</text></g>
<g id="n-gcu"><circle class="s1" cx="680" cy="807" r="3.2"/><text x="680" y="798.5">glucuronate</text></g>
<g id="n-mna"><circle class="s1" cx="543" cy="818" r="3.2"/><text x="543" y="809.5">1-methylnicotinamide</text></g>
<g id="n-spa"><circle class="s1" cx="263" cy="846" r="3.2"/><text x="263" y="837.5">sphinganine</text></g>
<g id="n-s1p"><circle class="s1" cx="79" cy="842" r="3.2"/><text x="79" y="833.5">sphingosine 1-phosphate</text></g>
<g id="n-trp"><circle class="s3" cx="756" cy="845" r="9.8"/><text x="756" y="831">tryptophan</text></g>
<g id="n-myo"><circle class="s2" cx="681" cy="853" r="6.8"/><text x="681" y="842">myo-inositol</text></g>
<g id="n-sul"><circle class="s1" cx="543" cy="849" r="3.2"/><text x="543" y="840.5">sulfate*</text></g>
<g id="n-cyd"><circle class="s1" cx="418" cy="859" r="3.2"/><text x="418" y="850.5">cytidine</text></g>
<g id="n-sph"><circle class="s1" cx="182" cy="868" r="3.2"/><text x="182" y="859.5">sphingosine</text></g>
<g id="n-mta"><circle class="s1" cx="320" cy="874" r="3.2"/><text x="320" y="865.5">5-methylthioadenosine (mta)</text></g>
<g id="n-dhea"><circle class="s2" cx="543" cy="892" r="6.8"/><text x="543" y="881">dehydroepiandrosterone sulfate (dhea-s)</text></g>
<g id="n-npsg"><circle class="s1" cx="190" cy="904" r="3.2"/><text x="190" y="895.5">n-palmitoyl-sphingosine (d18:1/16:0)</text></g>
<g id="n-cyt"><circle class="s1" cx="418" cy="909" r="3.2"/><text x="418" y="900.5">cytosine</text></g>
<g id="n-i1p"><circle class="s1" cx="681" cy="912" r="3.2"/><text x="681" y="903.5">inositol 1-phosphate (i1p)</text></g>
<g id="n-nss"><circle class="s1" cx="105" cy="926" r="3.2"/><text x="105" y="917.5">n-stearoyl-sphingosine (d18:1/18:0)*</text></g>
<g id="n-spd"><circle class="s2" cx="320" cy="938" r="6.8"/><text x="320" y="927">spermidine</text></g>
<g id="n-cor"><circle class="s2" cx="758" cy="933" r="6.8"/><text x="758" y="922">cortisone</text></g>
<g id="n-sog"><circle class="s1" cx="493" cy="936" r="3.2"/><text x="493" y="927.5">1-stearoyl-2-oleoyl-gps (18:0/18:1)</text></g>
<g id="n-ssm"><circle class="s1" cx="203" cy="959" r="3.2"/><text x="203" y="950.5">stearoyl sphingomyelin (d18:1/18:0)</text></g>
<g id="n-pe"><circle class="s1" cx="493" cy="996" r="3.2"/><text x="493" y="987.5">1-(1-enyl-stearoyl)-2-arachidonoyl-gpe (p-18:0/20:4)*</text></g>
<g id="n-crl"><circle class="s2" cx="758" cy="994" r="6.8"/><text x="758" y="983">cortisol</text></g>
<g id="n-dmu17"><circle class="s2" cx="84" cy="413" r="6.8"/><text x="84" y="402">1,7-dimethylurate</text></g>
<g id="n-tbr"><circle class="s2" cx="171" cy="282" r="6.8"/><text x="171" y="271">theobromine</text></g>
<g id="n-dmu37"><circle class="s1" cx="171" cy="360" r="3.2"/><text x="171" y="351.5">3,7-dimethylurate</text></g>
</g>
<g id="legend" class="lg">
<rect x="893" y="670" width="275" height="306" fill="#fff" stroke="#333" stroke-width="1.5"/>
<line x1="893" y1="758" x2="1168" y2="758" stroke="#333" stroke-width="1.5"/>
<line x1="893" y1="847" x2="1168" y2="847" stroke="#333" stroke-width="1.5"/>
<line x1="900" y1="687" x2="926" y2="687" stroke="#3c8a4f" stroke-width="5"/><polygon points="922,681 944,687 922,693" fill="#3c8a4f"/>
<line x1="900" y1="713" x2="926" y2="713" stroke="#b3b3b3" stroke-width="5"/><polygon points="922,707 944,713 922,719" fill="#b3b3b3"/>
<line x1="900" y1="737" x2="926" y2="737" stroke="#f0b7b7" stroke-width="5"/><polygon points="922,731 944,737 922,743" fill="#f0b7b7"/>
<line x1="900" y1="781" x2="930" y2="781" stroke="#333" stroke-width="1.2"/><polygon points="927,777.5 944,781 927,784.5" fill="#222"/>
<line x1="900" y1="805" x2="930" y2="805" stroke="#222" stroke-width="3"/><polygon points="925,800 944,805 925,810" fill="#222"/>
<line x1="900" y1="833" x2="925" y2="833" stroke="#222" stroke-width="5"/><polygon points="918,826 944,833 918,840" fill="#222"/>
<text x="957" y="692">Reaction detected by MR-link-2</text>
<text x="957" y="718">Reaction not detected by MR-link-2</text>
<text x="957" y="742">No genetic association available</text>
<text x="957" y="785">Reaction present in 1 reference</text>
<text x="957" y="809">Reaction present in 2 references</text>
<text x="957" y="838">Reaction present in 3 references</text>
<g fill="#8c4a5c" stroke="#140508">
<circle cx="920" cy="874" r="3.2" stroke-width="2.6"/>
<circle cx="920" cy="901" r="6.8" stroke-width="2.6"/>
<circle cx="920" cy="927" r="9.8" stroke-width="3"/>
<circle cx="920" cy="956" r="13" stroke-width="3"/>
</g>
<text x="957" y="879">Metabolite measured in 1 study</text>
<text x="957" y="906">Metabolite measured in 2 studies</text>
<text x="957" y="932">Metabolite measured in 3 studies</text>
<text x="957" y="961">Metabolite measured in 4 studies</text>
</g>
</svg>
